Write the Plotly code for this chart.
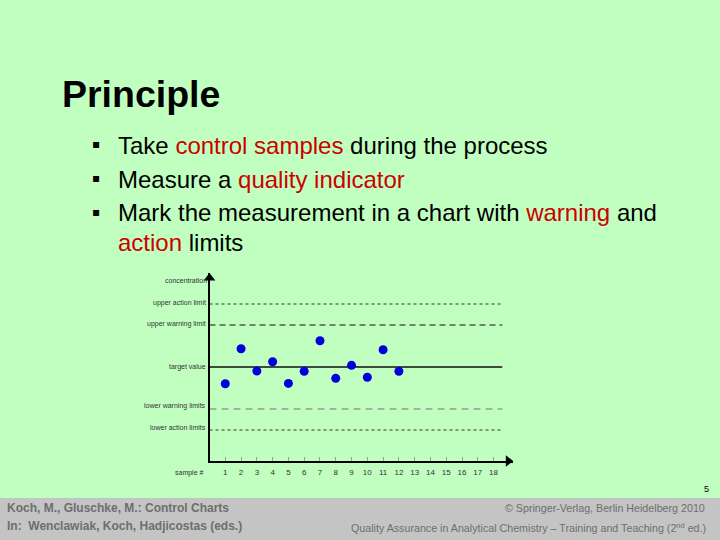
import plotly.graph_objects as go

# ---------------- data ----------------
sample_no = [1, 2, 3, 4, 5, 6, 7, 8, 9, 10, 11, 12]
measured = [-0.80, 0.87, -0.19, 0.25, -0.78, -0.20, 1.25, -0.54, 0.08, -0.49, 0.82, -0.20]

limit_names = ["upper action limit", "upper warning limit", "target value",
               "lower warning limits", "lower action limits"]
limit_values = [3, 2, 0, -2, -3]

x_ticks = list(range(1, 19))
x_tick_labels = [str(v) for v in x_ticks]

W, H = 720, 540
BG = "#C0FFC0"
RED = "#CC0000"
FONT = "Liberation Sans"


def px(x):
    return x / W


def py(y):
    return 1 - y / H


fig = go.Figure()

# limit lines
line_styles = {
    "upper action limit": dict(color="#333333", width=1, dash="dot"),
    "upper warning limit": dict(color="#111111", width=1.2, dash="6px,4px"),
    "target value": dict(color="#111111", width=1.6, dash="solid"),
    "lower warning limits": dict(color="#777777", width=1.2, dash="7px,5px"),
    "lower action limits": dict(color="#333333", width=1, dash="dot"),
}
x_end = 18.55
for name, val in zip(limit_names, limit_values):
    fig.add_trace(go.Scatter(x=[0, x_end], y=[val, val], mode="lines",
                             line=line_styles[name], hoverinfo="skip",
                             showlegend=False))

# measurement points
fig.add_trace(go.Scatter(x=sample_no, y=measured, mode="markers",
                         marker=dict(color="#0000DD", size=9),
                         showlegend=False))

x_range = [0, 19.25]
y_range = [-4.476, 4.476]

# axis arrowheads (decoration at the ends of the axes)
fig.add_trace(go.Scatter(x=[x_range[1] - 5 / 15.77], y=[y_range[0]], mode="markers",
                         marker=dict(symbol="triangle-right", size=10, color="#000000",
                                     line=dict(width=0)),
                         cliponaxis=False, hoverinfo="skip", showlegend=False))
fig.add_trace(go.Scatter(x=[0], y=[y_range[1] - 5 / 21.0], mode="markers",
                         marker=dict(symbol="triangle-up", size=10, color="#000000",
                                     line=dict(width=0)),
                         cliponaxis=False, hoverinfo="skip", showlegend=False))

fig.update_layout(
    width=W, height=H,
    margin=dict(l=0, r=0, t=0, b=0),
    paper_bgcolor=BG, plot_bgcolor=BG,
    showlegend=False,
    xaxis=dict(domain=[px(209.5), px(513.3)], range=x_range,
               showgrid=False, zeroline=False,
               showline=True, linecolor="#000000", linewidth=1.5,
               tickmode="array", tickvals=x_ticks, ticktext=x_tick_labels,
               ticks="inside", ticklen=4, tickcolor="#9A9A9A", tickwidth=1,
               ticklabelstandoff=3,
               tickfont=dict(family=FONT, size=8, color="#333333")),
    yaxis=dict(domain=[py(461), py(273)], range=y_range,
               showgrid=False, zeroline=False,
               showline=True, linecolor="#000000", linewidth=1.5,
               showticklabels=False, ticks=""),
)

ann = []
# limit labels
shifts = [1, 1, 0, 3, 3]
for name, val, sh in zip(limit_names, limit_values, shifts):
    ann.append(dict(x=0, y=val, xref="x", yref="y", text=name, showarrow=False,
                    xanchor="right", yanchor="middle", xshift=-2, yshift=sh,
                    font=dict(family=FONT, size=7, color="#333333")))
ann.append(dict(x=0, y=4.14, xref="x", yref="y", text="concentration",
                showarrow=False, xanchor="right", yanchor="middle", xshift=-1,
                font=dict(family=FONT, size=7, color="#333333")))
ann.append(dict(x=0, y=y_range[0], xref="x", yref="y", text="sample #",
                showarrow=False, xanchor="right", yanchor="middle",
                xshift=-4, yshift=-12,
                font=dict(family=FONT, size=7, color="#333333")))

# slide title and bullets
ann.append(dict(x=px(60), y=py(94), xref="paper", yref="paper",
                text="<b>Principle</b>", showarrow=False,
                xanchor="left", yanchor="middle",
                font=dict(family=FONT, size=37.5, color="#000000")))

bullets = [
    (145, f'Take <span style="color:{RED}">control samples</span> during the process', True),
    (179, f'Measure a <span style="color:{RED}">quality indicator</span>', True),
    (213, f'Mark the measurement in a chart with <span style="color:{RED}">warning</span> and', True),
    (243, f'<span style="color:{RED}">action</span> limits', False),
]
for yc, txt, has_bullet in bullets:
    ann.append(dict(x=px(116), y=py(yc), xref="paper", yref="paper", text=txt,
                    showarrow=False, xanchor="left", yanchor="middle",
                    font=dict(family=FONT, size=24, color="#000000")))
    if has_bullet:
        ann.append(dict(x=px(95.5), y=py(yc - 1), xref="paper", yref="paper",
                        text="▪", showarrow=False, xanchor="center",
                        yanchor="middle",
                        font=dict(family="DejaVu Sans", size=12, color="#000000")))

# page number
ann.append(dict(x=px(711), y=py(489), xref="paper", yref="paper", text="5",
                showarrow=False, xanchor="right", yanchor="middle",
                font=dict(family=FONT, size=9, color="#000000")))

# footer
FOOT = "#6E6E6E"
ann.append(dict(x=px(5), y=py(508), xref="paper", yref="paper",
                text="<b>Koch, M., Gluschke, M.: Control Charts</b>",
                showarrow=False, xanchor="left", yanchor="middle",
                font=dict(family=FONT, size=12, color=FOOT)))
ann.append(dict(x=px(5), y=py(526), xref="paper", yref="paper",
                text="<b>In:  Wenclawiak, Koch, Hadjicostas (eds.)</b>",
                showarrow=False, xanchor="left", yanchor="middle",
                font=dict(family=FONT, size=12, color=FOOT)))
ann.append(dict(x=px(707), y=py(508), xref="paper", yref="paper",
                text="© Springer-Verlag, Berlin Heidelberg 2010",
                showarrow=False, xanchor="right", yanchor="middle",
                font=dict(family=FONT, size=10.7, color=FOOT)))
ann.append(dict(x=px(708), y=py(527), xref="paper", yref="paper",
                text="Quality Assurance in Analytical Chemistry – Training and Teaching (2<sup>nd</sup> ed.)",
                showarrow=False, xanchor="right", yanchor="middle",
                font=dict(family=FONT, size=10.7, color=FOOT)))

fig.update_layout(annotations=ann)

# footer band
fig.add_shape(type="rect", xref="paper", yref="paper", x0=0, x1=1,
              y0=0, y1=py(498), fillcolor="#C4C4C4", line=dict(width=0),
              layer="below")

fig.write_html("out.html", config={"displayModeBar": False},
               post_script="document.body.style.margin='0';document.body.style.overflow='hidden';")
